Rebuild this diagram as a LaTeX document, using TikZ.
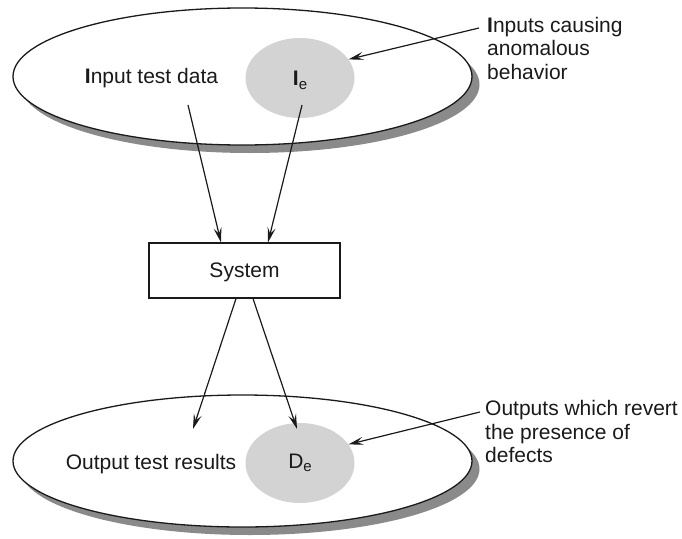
\documentclass[tikz,border=0pt]{standalone}
\usepackage{fontspec}
\setmainfont{Liberation Sans}
\usetikzlibrary{shapes.geometric,arrows.meta}
\definecolor{shadowgray}{HTML}{8A8A8A}
\definecolor{spotgray}{HTML}{D3D3D3}
\definecolor{ink}{HTML}{1A1A1A}
\begin{document}
\begin{tikzpicture}[x=1pt,y=-1pt,
  every node/.style={font=\fontsize{21}{23.5}\selectfont, text=ink},
  bigell/.style={ellipse, draw=ink, line width=1.3pt, fill=white, minimum width=459pt, minimum height=137pt, inner sep=0pt},
  shadowell/.style={ellipse, draw=none, fill=shadowgray, minimum width=459pt, minimum height=137pt, inner sep=0pt},
  spot/.style={ellipse, draw=none, fill=spotgray, minimum width=109pt, minimum height=80pt, inner sep=0pt},
  sysbox/.style={draw=ink, line width=1.2pt, minimum width=191pt, minimum height=55pt, inner sep=0pt, text depth=0pt},
  lab/.style={anchor=north west, align=left, inner sep=0pt},
  arr/.style={draw=ink, line width=1.2pt, -{Stealth[length=15pt,width=8pt,inset=6pt]}}
]
\fill[white] (0,0) rectangle (682,538);
\useasboundingbox (0,0) rectangle (682,538);

% top ellipse
\node[shadowell] (topsh) at (250,84.5) {};
\node[bigell] (top) at (242.5,76.5) {};
\node[spot] (ie) at (300,78) {};
\node[anchor=base] (intext) at (151.5,83) {\textbf{I}nput test data};
\node[anchor=base] (ietext) at (300,85.7) {\textbf{I}\raisebox{-3.6pt}{\fontsize{15}{15}\selectfont e}};
\node[lab] (inlab) at (487,16.8) {\textbf{I}nputs causing\\anomalous\\behavior};

% system
\node[sysbox] (sys) at (244.5,270.5) {System};

% bottom ellipse
\node[shadowell, minimum height=132pt] (botsh) at (250,469) {};
\node[bigell, minimum height=132pt] (bot) at (242.5,461) {};
\node[spot] (de) at (300,463) {};
\node[anchor=base] (outtext) at (151,469) {Output test results};
\node[anchor=base] (detext) at (300,468) {D\raisebox{-3.6pt}{\fontsize{15}{15}\selectfont e}};
\node[lab] (outlab) at (485,400.5) {Outputs which revert\\the presence of\\defects};

% connectors
\coordinate (a1) at (188,105);
\coordinate (a2) at (302,105);
\coordinate (b1) at (193,429);
\coordinate (b2) at (297,429);
\coordinate (c1) at (479,28);
\coordinate (c2) at (480,412);
\draw[arr] (a1) -- ([xshift=-23.5pt]sys.north);
\draw[arr] (a2) -- ([xshift=23.5pt]sys.north);
\draw[arr] ([xshift=-8.5pt]sys.south) -- (b1);
\draw[arr] ([xshift=8.5pt]sys.south) -- (b2);
\draw[arr] (c1) -- (ie.21);
\draw[arr] (c2) -- (de.21);
\end{tikzpicture}
\end{document}
